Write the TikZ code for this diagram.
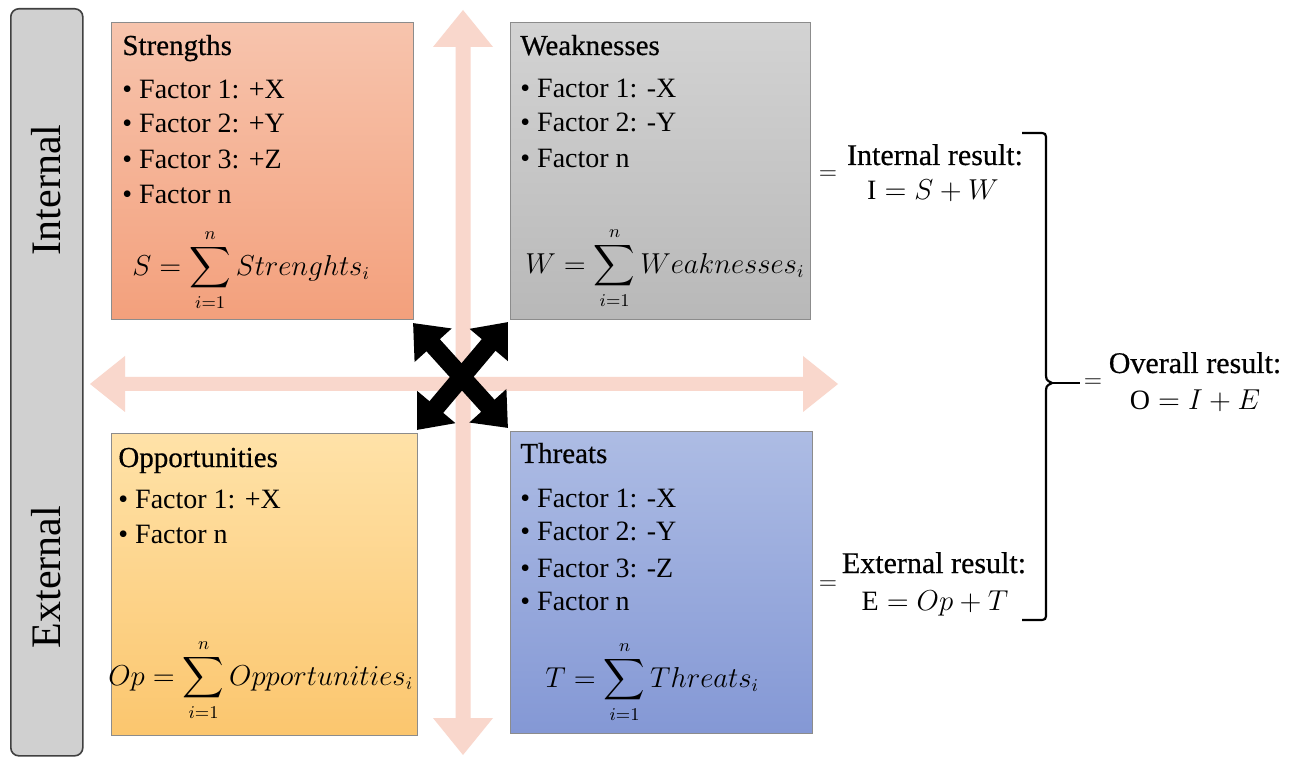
\documentclass[tikz,border=0pt]{standalone}
\usepackage{amsmath}
\usepackage{fontspec}
\setmainfont{Liberation Serif}
\newfontfamily\semibf[FakeBold=0.5]{Liberation Serif}
\usetikzlibrary{arrows.meta}
\definecolor{sTop}{HTML}{F7C4AD}
\definecolor{sBot}{HTML}{F3A07C}
\definecolor{wTop}{HTML}{D3D3D3}
\definecolor{wBot}{HTML}{B8B8B8}
\definecolor{oTop}{HTML}{FFE2A8}
\definecolor{oBot}{HTML}{FBC66E}
\definecolor{tTop}{HTML}{ADBCE4}
\definecolor{tBot}{HTML}{8498D5}
\definecolor{pinkc}{HTML}{F9D7CC}
\definecolor{barc}{HTML}{D0D0D0}
\begin{document}
\begin{tikzpicture}[x=0.5pt,y=-0.5pt,
  quad/.style={draw=black!45, line width=0.5pt, anchor=north west, inner sep=0pt, outer sep=0pt},
  txt/.style={anchor=base west, inner sep=0pt, font=\fontsize{14}{16}\selectfont},
  ttl/.style={anchor=base west, inner sep=0pt, font=\semibf\fontsize{14.5}{16}\selectfont},
  formula/.style={anchor=west, inner sep=0pt, font=\fontsize{13.5}{16}\selectfont},
  side/.style={rotate=90, inner sep=0pt, font=\fontsize{21}{24}\selectfont},
  res/.style={anchor=base, inner sep=0pt, font=\semibf\fontsize{15}{17}\selectfont},
  resm/.style={anchor=base, inner sep=0pt, font=\fontsize{14}{16}\selectfont},
  eqsign/.style={inner sep=0pt, font=\fontsize{13}{15}\selectfont},
  xarrow/.style={line width=9pt, {Triangle[length=15pt,width=24pt]}-{Triangle[length=15pt,width=24pt]}},
  brace/.style={line width=1.1pt, black}
]
\useasboundingbox (0,0) rectangle (1294,758);
\fill[white] (0,0) rectangle (1294,758);
% left bar
\node[draw=black!75, fill=barc, rounded corners=4pt, line width=0.8pt, anchor=north west, minimum width=36pt, minimum height=373.5pt, inner sep=0pt] (bar) at (10,8) {};
\node[side] (int) at (46,190) {Internal};
\node[side] (ext) at (46,577) {External};
% pink axes
\fill[pinkc] (455.5,47) -- (433,47) -- (463,10) -- (493,47) -- (470.5,47) -- (470.5,718) -- (493,718) -- (463,755) -- (433,718) -- (455.5,718) -- cycle;
\fill[pinkc] (125,377) -- (125,356) -- (90,384) -- (125,412) -- (125,391) -- (803,391) -- (803,412) -- (838,384) -- (803,356) -- (803,377) -- cycle;
% boxes
\node[quad, top color=sTop, bottom color=sBot, minimum width=151pt, minimum height=148.5pt] (S) at (111,23) {};
\node[quad, top color=wTop, bottom color=wBot, minimum width=150pt, minimum height=148.5pt] (W) at (510,23) {};
\node[quad, top color=oTop, bottom color=oBot, minimum width=153pt, minimum height=150.5pt] (O) at (111,434) {};
\node[quad, top color=tTop, bottom color=tBot, minimum width=151pt, minimum height=150.5pt] (T) at (510,432) {};
% black X
\coordinate (x1a) at (413,323);
\coordinate (x1b) at (508,428);
\coordinate (x2a) at (508,322);
\coordinate (x2b) at (417,430);
\draw[xarrow] (x1a) -- (x1b);
\draw[xarrow] (x2a) -- (x2b);
% Strengths
\node[ttl] (s0) at (122,55) {Strengths};
\node[txt] (s1) at (122,99) {\textbullet\ Factor 1: +X};
\node[txt] (s2) at (122,133) {\textbullet\ Factor 2: +Y};
\node[txt] (s3) at (122,169) {\textbullet\ Factor 3: +Z};
\node[txt] (s4) at (122,204) {\textbullet\ Factor n};
\node[formula] (sf) at (132,270) {$\displaystyle S=\sum_{i=1}^{n} Strenghts_i$};
% Weaknesses
\node[ttl] (w0) at (520,55) {Weaknesses};
\node[txt] (w1) at (520,98) {\textbullet\ Factor 1: -X};
\node[txt] (w2) at (520,132) {\textbullet\ Factor 2: -Y};
\node[txt] (w3) at (520,168) {\textbullet\ Factor n};
\node[formula] (wf) at (525,268) {$\displaystyle W=\sum_{i=1}^{n} Weaknesses_i$};
% Opportunities
\node[ttl] (o0) at (118,467) {Opportunities};
\node[txt] (o1) at (118,508) {\textbullet\ Factor 1: +X};
\node[txt] (o2) at (118,543) {\textbullet\ Factor n};
\node[formula] (of) at (108,680) {$\displaystyle Op=\sum_{i=1}^{n} Opportunities_i$};
% Threats
\node[ttl] (t0) at (520,463) {Threats};
\node[txt] (t1) at (520,507) {\textbullet\ Factor 1: -X};
\node[txt] (t2) at (520,540) {\textbullet\ Factor 2: -Y};
\node[txt] (t3) at (520,577) {\textbullet\ Factor 3: -Z};
\node[txt] (t4) at (520,610) {\textbullet\ Factor n};
\node[formula] (tf) at (545,682) {$\displaystyle T=\sum_{i=1}^{n} Threats_i$};
% results
\node[eqsign] (e1) at (828,175) {$=$};
\node[res] (r1a) at (935,165) {Internal result:};
\node[resm] (r1b) at (933,200) {$\mathrm{I}=S+W$};
\node[eqsign] (e2) at (828,585) {$=$};
\node[res] (r2a) at (934,573) {External result:};
\node[resm] (r2b) at (935,610) {$\mathrm{E}=Op+T$};
\node[eqsign] (e3) at (1093,383) {$=$};
\node[res] (r3a) at (1195,373) {Overall result:};
\node[resm] (r3b) at (1195,410) {$\mathrm{O}=I+E$};
% brace
\coordinate (bt) at (1022,133);
\coordinate (bb) at (1022,620);
\coordinate (bc) at (1052,383);
\coordinate (be) at (1080,383);
\draw[brace] (bt) -- (1038,133) .. controls (1046,133) .. (1046,141) -- (1046,372) .. controls (1046,380) .. (bc) .. controls (1046,386) .. (1046,394) -- (1046,612) .. controls (1046,620) .. (1038,620) -- (bb);
\draw[brace] (bc) -- (be);
\end{tikzpicture}
\end{document}
